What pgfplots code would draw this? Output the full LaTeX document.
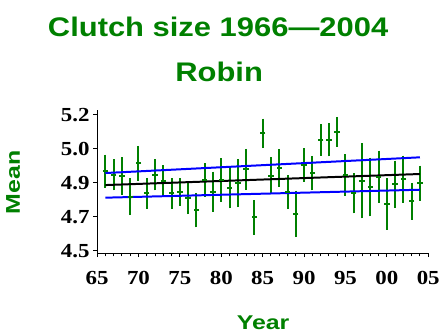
\documentclass[border=0pt]{standalone}
\usepackage{fontspec}
\usepackage{pgfplots}
\pgfplotsset{compat=1.18}
\usepackage{pgfplotstable}
\newfontfamily\headfont[FakeStretch=1.15]{Liberation Sans}
\newfontfamily\labfont[FakeStretch=1.25]{Liberation Sans}
\newfontfamily\tickfont[FakeStretch=1.15]{Liberation Serif}
\definecolor{sasgreen}{RGB}{0,128,0}

% yearly mean clutch size and half width of the bar
\pgfplotstableread{
yr  m      e
66  4.909  0.072
67  4.890  0.066
68  4.885  0.082
69  4.778  0.081
70  4.950  0.076
71  4.795  0.066
72  4.890  0.066
73  4.860  0.067
74  4.795  0.065
75  4.801  0.057
76  4.771  0.069
77  4.709  0.075
78  4.864  0.073
79  4.804  0.089
80  4.864  0.099
81  4.821  0.089
82  4.847  0.109
83  4.920  0.091
84  4.672  0.075
85  5.104  0.062
86  4.886  0.081
87  4.926  0.083
88  4.801  0.073
89  4.689  0.106
90  4.941  0.073
91  4.900  0.075
92  5.071  0.067
93  5.071  0.071
94  5.112  0.063
95  4.890  0.092
96  4.795  0.089
97  4.860  0.180
98  4.828  0.138
99  4.881  0.120
100 4.740  0.118
101 4.843  0.107
102 4.869  0.107
103 4.754  0.081
104 4.847  0.077
}\clutch

\begin{document}
\begin{tikzpicture}
\begin{axis}[
  at={(0,0)}, anchor=south west,
  scale only axis,
  width=332.5bp, height=143.8bp,
  xmin=65, xmax=105,
  ymin=4.4866, ymax=5.2245,
  axis x line*=bottom, axis y line*=left,
  axis line style={-, line width=1bp},
  xtick={65,70,...,105},
  xticklabels={65,70,75,80,85,90,95,00,05},
  minor x tick num=4,
  ytick={4.5,4.675,4.85,5.025,5.2},
  yticklabels={4.5,4.7,4.9,5.0,5.2},
  tick align=outside,
  major tick length=4bp, minor tick length=3bp,
  tick style={black, line width=1bp},
  ticklabel style={font=\tickfont\fontsize{20bp}{22bp}\bfseries\selectfont},
  xticklabel style={yshift=-11bp},
  /pgf/number format/assume math mode=true,
  clip=false,
]
\addplot[sasgreen, only marks, mark=-, mark size=2.7bp,
  mark options={line width=2bp, sasgreen},
  error bars/.cd, y dir=both, y explicit,
  error bar style={line width=2bp, sasgreen},
  error mark=-, error mark options={line width=2bp, mark size=2.7bp, sasgreen},
] table[x=yr, y=m, y error=e] {\clutch};

\addplot[blue, line width=2bp] coordinates {(66,4.900) (104,4.981)};
\addplot[blue, line width=2bp] coordinates {(66,4.773) (104,4.814)};
\addplot[black, line width=2bp] coordinates {(66,4.838) (104,4.895)};
\end{axis}

\node[anchor=base, text=sasgreen, font=\headfont\fontsize{27bp}{30bp}\bfseries\selectfont]
  at (121.5bp,217.3bp) {Clutch size 1966—2004};
\node[anchor=base, text=sasgreen, font=\headfont\fontsize{27bp}{30bp}\bfseries\selectfont]
  at (122.5bp,172.6bp) {Robin};
\node[anchor=base, text=sasgreen, font=\labfont\fontsize{20bp}{22bp}\bfseries\selectfont]
  at (166.7bp,-76.5bp) {Year};
\node[anchor=base, rotate=90, text=sasgreen, font=\labfont\fontsize{20bp}{22bp}\bfseries\selectfont]
  at (-77.5bp,71.3bp) {Mean};

\path (-97.5bp,-78.7bp) rectangle (345.5bp,254.3bp);
\end{tikzpicture}
\end{document}
